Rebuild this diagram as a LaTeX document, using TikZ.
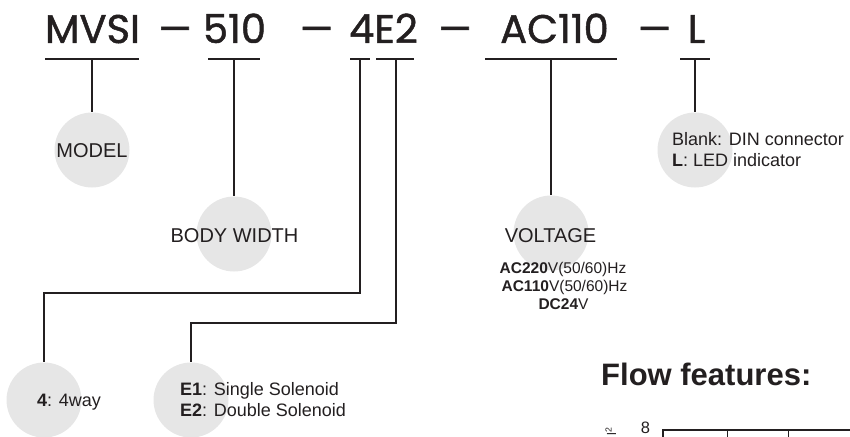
\documentclass[tikz,border=0pt]{standalone}
\usepackage{fontspec}
\setmainfont{Liberation Sans}
\newfontfamily\titlefont[FakeBold=1.2]{Poppins}
\definecolor{ink}{HTML}{231F20}
\definecolor{circfill}{HTML}{E6E6E6}
\tikzset{
  titletxt/.style={anchor=base, inner sep=0, text=ink, font=\titlefont\fontsize{40}{40}\selectfont},
  titledash/.style={anchor=base, inner sep=0, text=ink, font=\titlefont\fontsize{40}{40}\selectfont, xscale=1.3},
  bubble/.style={circle, fill=circfill, minimum size=75pt, inner sep=0},
  biglabel/.style={anchor=base, inner sep=0, text=ink, font=\fontsize{20}{20}\selectfont},
  smalllabel/.style={anchor=base west, inner sep=0, text=ink, font=\fontsize{18}{18}\selectfont},
  voltlabel/.style={anchor=base, inner sep=0, text=ink, font=\fontsize{15.5}{15.5}\selectfont},
  conn/.style={draw=ink, line width=1.3pt},
  grid/.style={draw=ink, line width=0.9pt}
}
\begin{document}
\begin{tikzpicture}[x=1pt,y=-1pt]
\useasboundingbox (0,0) rectangle (850,436);
% title
\node[titletxt] (tM) at (92.5,43) {MVSI};
\node[titledash] (d1) at (175,43) {–};
\node[titletxt] (t5) at (234.5,43) {510};
\node[titledash] (d2) at (316.5,43) {–};
\node[titletxt] (t4) at (383.5,43) {4E2};
\node[titledash] (d3) at (455,43) {–};
\node[titletxt] (tA) at (554.5,43) {AC110};
\node[titledash] (d4) at (654.5,43) {–};
\node[titletxt] (tL) at (696.5,43) {L};
% underline coordinates
\coordinate (uMa) at (45,59);  \coordinate (uMb) at (139,59);  \coordinate (uM) at (92,59);
\coordinate (u5a) at (208,59); \coordinate (u5b) at (260,59); \coordinate (u5) at (234,59);
\coordinate (u4a) at (350,59); \coordinate (u4b) at (370,59); \coordinate (u4) at (360,59);
\coordinate (uEa) at (376,59); \coordinate (uEb) at (414,59); \coordinate (uE) at (396,59);
\coordinate (uAa) at (485,59); \coordinate (uAb) at (617,59); \coordinate (uA) at (551,59);
\coordinate (uLa) at (680,59); \coordinate (uLb) at (710,59); \coordinate (uL) at (695,59);
\draw[conn] (uMa) -- (uMb);
\draw[conn] (u5a) -- (u5b);
\draw[conn] (u4a) -- (u4b);
\draw[conn] (uEa) -- (uEb);
\draw[conn] (uAa) -- (uAb);
\draw[conn] (uLa) -- (uLb);
% bubbles
\node[bubble] (cM) at (92,150) {};
\node[bubble] (c5) at (234,234) {};
\node[bubble] (cA) at (551,233) {};
\node[bubble] (cL) at (695,150) {};
\node[bubble] (c4) at (44,400) {};
\node[bubble] (cE) at (191,400) {};
% connectors
\draw[conn] (uM) -- (cM.north);
\draw[conn] (u5) -- (c5.north);
\draw[conn] (uA) -- (cA.north);
\draw[conn] (uL) -- (cL.north);
\coordinate (k4) at (360,293);
\coordinate (kE) at (396,323);
\draw[conn] (u4) -- (k4) -| (c4.north);
\draw[conn] (uE) -- (kE) -| (cE.north);
% labels
\node[biglabel] (lM) at (92,157) {MODEL};
\node[biglabel] (l5) at (234.5,242) {BODY WIDTH};
\node[biglabel] (lA) at (550.5,242) {VOLTAGE};
\node[voltlabel] (v1) at (563,273) {\textbf{AC220}V(50/60)Hz};
\node[voltlabel] (v2) at (564.5,291) {\textbf{AC110}V(50/60)Hz};
\node[voltlabel] (v3) at (563.5,309) {\textbf{DC24}V};
\node[smalllabel] (b1) at (672,145) {Blank: DIN connector};
\node[smalllabel] (b2) at (672,166) {\textbf{L}: LED indicator};
\node[smalllabel] (w4) at (37,406) {\textbf{4}: 4way};
\node[smalllabel] (e1) at (180,395) {\textbf{E1}: Single Solenoid};
\node[smalllabel] (e2) at (180,416) {\textbf{E2}: Double Solenoid};
% flow features
\node[anchor=base west, inner sep=0, text=ink, font=\bfseries\fontsize{31}{31}\selectfont] (ff) at (601,385) {Flow features:};
\node[anchor=base, inner sep=0, text=ink, font=\fontsize{16.5}{16.5}\selectfont] (n8) at (645.5,433.5) {8};
\node[rotate=90, anchor=base west, inner sep=0, text=ink, font=\fontsize{12.5}{12.5}\selectfont] (yl) at (616,435.5) {l\textsuperscript{2}};
\coordinate (g0) at (663,430);
\coordinate (g1) at (850,430);
\draw[draw=ink, line width=2pt] (663,440) -- (g0) -- (g1);
\draw[grid] (727,430) -- (727,440);
\draw[grid] (788,430) -- (788,440);
\end{tikzpicture}
\end{document}
